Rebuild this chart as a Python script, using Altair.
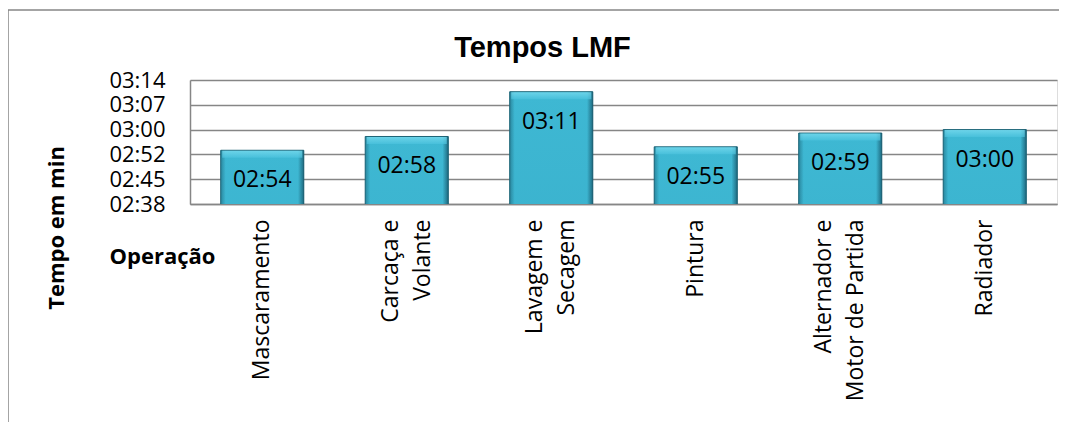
import altair as alt
import pandas as pd

# ---- data ----
operacoes = ["Mascaramento", "Carcaça e|Volante", "Lavagem e|Secagem",
             "Pintura", "Alternador e|Motor de Partida", "Radiador"]
tempos_seg = [174, 178, 191, 175, 179, 180]          # mm:ss expressed in seconds
rotulos = ["02:54", "02:58", "03:11", "02:55", "02:59", "03:00"]
y_ticks = [158.4, 165.6, 172.8, 180.0, 187.2, 194.4]  # 02:38 ... 03:14


def pad(label):
    # keep the lines of a wrapped label visually centred on each other
    lines = label.split("|")
    m = max(len(s) for s in lines)
    return "|".join(s + "\u00a0" * (m - len(s)) for s in lines)


cats = [pad(c) for c in operacoes]
df = pd.DataFrame({"op": cats, "t": tempos_seg, "lab": rotulos})

FONT = "Open Sans"
GRID = "#868686"

x_enc = alt.X(
    "op:N", sort=cats,
    scale=alt.Scale(paddingInner=0.425, paddingOuter=0.2125),
    axis=alt.Axis(
        title="Operação", titleFont=FONT, titleFontSize=22, titleFontWeight="bold",
        titleColor="black", titleX=-28, titleY=59, titleAlign="center",
        titleBaseline="alphabetic",
        labelExpr="split(datum.label, '|')", labelAngle=-90, labelAlign="right",
        labelBaseline="middle", labelPadding=15, labelFont=FONT, labelFontSize=23,
        labelLineHeight=32, labelColor="black", labelLimit=0, ticks=False,
        labelOffset={"condition": {"test": "indexof(datum.value, '|') >= 0", "value": -16},
                     "value": 0},
        domainColor=GRID, domainWidth=1.5,
    ),
)
x_plain = alt.X("op:N", sort=cats)
y_enc = alt.Y(
    "t:Q",
    scale=alt.Scale(domain=[y_ticks[0], y_ticks[-1]], zero=False, nice=False),
    axis=alt.Axis(
        values=y_ticks, tickCount=20,
        labelExpr="'0' + floor(datum.value/60) + ':' + (floor(datum.value%60) < 10 ? '0' : '') + floor(datum.value%60)",
        labelFont=FONT, labelFontSize=22, labelColor="black", labelPadding=25,
        labelOverlap=False, ticks=False, grid=True, gridColor=GRID, gridWidth=1.5,
        domainColor=GRID, domainWidth=1.5,
        title="Tempo em min", titleFont=FONT, titleFontSize=22, titleFontWeight="bold",
        titleColor="black", titleX=-127, titleY=147.5, titleAlign="center",
        titleBaseline="alphabetic", titleAngle=270,
    ),
)

base = alt.Chart(df)

face = base.mark_bar(
    clip=True,
    color=alt.LinearGradient(
        gradient="linear", x1=0, y1=0, x2=0, y2=1,
        stops=[alt.GradientStop(color="#3eb8d3", offset=0),
               alt.GradientStop(color="#2f9fbd", offset=1)],
    ),
    stroke="#1f6577", strokeWidth=1,
).encode(x=x_enc, y=y_enc)

edges = base.mark_bar(
    clip=True,
    color=alt.LinearGradient(
        gradient="linear", x1=0, y1=0, x2=1, y2=0,
        stops=[alt.GradientStop(color="rgba(25,95,115,0.55)", offset=0),
               alt.GradientStop(color="rgba(25,95,115,0)", offset=0.06),
               alt.GradientStop(color="rgba(20,80,100,0)", offset=0.93),
               alt.GradientStop(color="rgba(20,80,100,0.75)", offset=1)],
    ),
).encode(x=x_plain, y="t:Q")

top = base.mark_tick(
    size=80, thickness=7, yOffset=4,
    color=alt.LinearGradient(
        gradient="linear", x1=0, y1=0, x2=0, y2=1,
        stops=[alt.GradientStop(color="#7fdff2", offset=0),
               alt.GradientStop(color="#4cc3de", offset=1)],
    ),
).encode(x=x_plain, y="t:Q")

labels = base.mark_text(
    font=FONT, fontSize=23, color="black", align="center",
    baseline="alphabetic", dy=37,
).encode(x=x_plain, y="t:Q", text="lab:N")

one = pd.DataFrame({"a": [0]})
frame_left = alt.Chart(one).mark_rule(color=GRID, strokeWidth=1.5).encode(
    x=alt.value(-182), y=alt.value(-70), y2=alt.value(342))
frame_top = alt.Chart(one).mark_rule(color=GRID, strokeWidth=1.5).encode(
    x=alt.value(-182), x2=alt.value(869), y=alt.value(-70))

chart = alt.layer(face, edges, top, labels, frame_left, frame_top).properties(
    width=867, height=124,
    padding={"left": 182, "top": 72, "right": 2, "bottom": 218},
    autosize=alt.AutoSizeParams(type="none"),
    title=alt.TitleParams(
        "Tempos LMF", font="Liberation Sans", fontSize=29, fontWeight="bold",
        color="black", anchor="middle", dx=-81, dy=97, baseline="alphabetic", offset=20,
    ),
).configure_view(stroke=None).configure(background="white")

chart.save("out.html", embed_options={"renderer": "svg", "actions": False})
